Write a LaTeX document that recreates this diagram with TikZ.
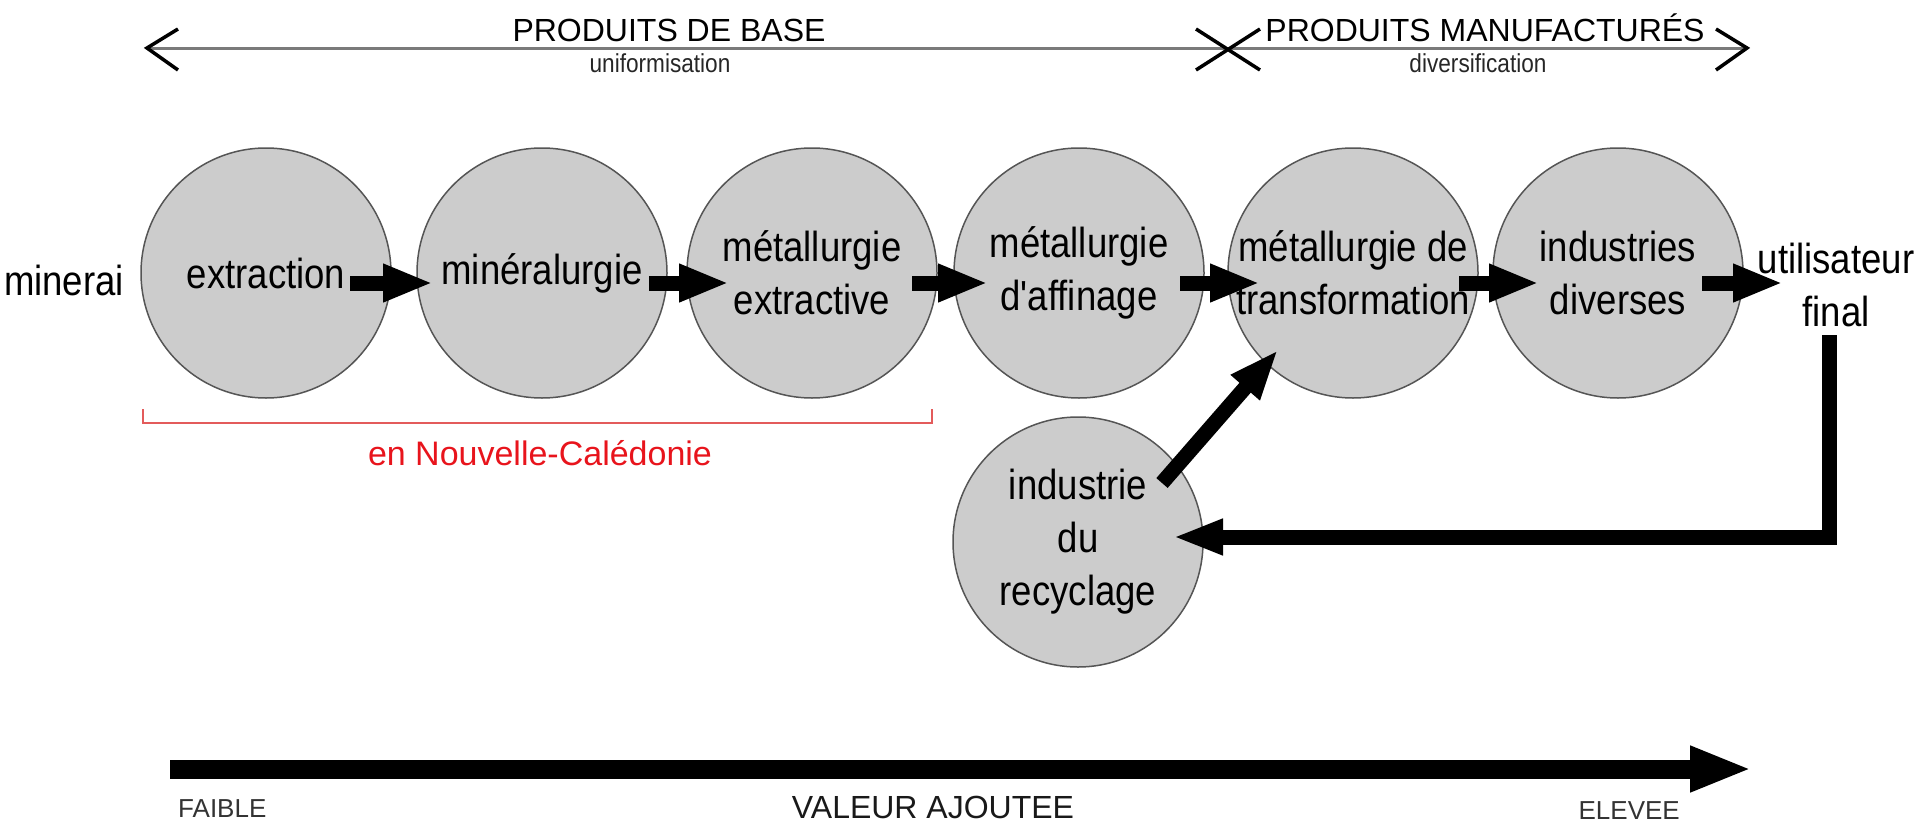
\documentclass[tikz,border=0pt]{standalone}
\usepackage{fontspec}
\setmainfont{Liberation Sans}
\newfontfamily\cfont[FakeStretch=0.87]{Liberation Sans}
\usetikzlibrary{arrows.meta}
\definecolor{circfill}{HTML}{CCCCCC}
\definecolor{circline}{HTML}{555555}
\definecolor{redline}{HTML}{E35B5B}
\definecolor{redtext}{HTML}{E8141C}
\definecolor{axisgray}{HTML}{7A7A7A}
\begin{document}
\begin{tikzpicture}[x=1pt,y=-1pt,
  stage/.style={circle,draw=circline,line width=1.5pt,fill=circfill,minimum size=250pt,inner sep=0pt,
    font=\cfont\fontsize{42pt}{53pt}\selectfont,align=center},
  plainlbl/.style={font=\cfont\fontsize{42pt}{53pt}\selectfont,align=center,inner sep=0pt},
  flow/.style={line width=15pt,-{Triangle[length=50pt,width=35pt]}},
  backflow/.style={line width=15pt,line join=miter,-{Triangle[length=50pt,width=33pt]}},
  valueflow/.style={line width=19pt,-{Triangle[length=62pt,width=42pt]}},
  headlbl/.style={font=\fontsize{32pt}{38pt}\selectfont,inner sep=0pt,anchor=base},
  sublbl/.style={font=\cfont\fontsize{26pt}{30pt}\selectfont,text=black!85,inner sep=0pt,anchor=base},
  axisline/.style={draw=axisgray,line width=3pt},
  chevron/.style={draw=black,line width=3.5pt},
  endlbl/.style={font=\fontsize{26pt}{30pt}\selectfont,text=black!80,inner sep=0pt},
]
\useasboundingbox (0,0) rectangle (1920,822);

% top axis
\draw[axisline] (147,48) -- (1747,48);
\draw[chevron] (178,29) -- (147,48) -- (178,70);
\draw[chevron] (1716,29) -- (1747,48) -- (1716,70);
\draw[chevron] (1196,29) -- (1260,70);
\draw[chevron] (1196,70) -- (1260,29);
\node[headlbl] (pb) at (669,41) {PRODUITS DE BASE};
\node[sublbl] (unif) at (660,72) {uniformisation};
\node[headlbl] (pm) at (1485,41) {PRODUITS MANUFACTURÉS};
\node[sublbl] (divs) at (1478,72) {diversification};

% stages
\node[plainlbl] (min) at (64,280) {minerai};
\node[stage] (c1) at (266,273) {extraction};
\node[stage] (c2) at (542,273) {minéralurgie};
\node[stage] (c3) at (812,273) {métallurgie\\extractive};
\node[stage] (c4) at (1079,273) {métallurgie\\d'affinage};
\node[stage] (c5) at (1353,273) {métallurgie de\\transformation};
\node[stage] (c6) at (1618,273) {industries\\diverses};
\node[plainlbl] (uf) at (1836,285) {utilisateur\\final};
\node[stage] (rec) at (1078,542) {industrie\\du\\recyclage};

% flow arrows
\draw[flow] ([shift={(84,10)}]c1.center) -- ([shift={(-109,10)}]c2.center);
\draw[flow] ([shift={(107,10)}]c2.center) -- ([shift={(-83,10)}]c3.center);
\draw[flow] ([shift={(100,10)}]c3.center) -- ([shift={(-91,10)}]c4.center);
\draw[flow] ([shift={(101,10)}]c4.center) -- ([shift={(-93,10)}]c5.center);
\draw[flow] ([shift={(106,10)}]c5.center) -- ([shift={(-79,10)}]c6.center);
\draw[flow] ([shift={(84,10)}]c6.center) -- ([shift={(-53,-2)}]uf.center);

% recycling loop
\draw[backflow] ([shift={(-7,50)}]uf.center) |- ([shift={(95,-5)}]rec.center);
\draw[flow] ([shift={(84,-59)}]rec.center) -- ([shift={(-75,77)}]c5.center);

% New Caledonia bracket
\draw[draw=redline,line width=2pt] (143,409) -- (143,423) -- (932,423) -- (932,409);
\node[font=\fontsize{34pt}{40pt}\selectfont,text=redtext,inner sep=0pt,anchor=base] (nc) at (540,465) {en Nouvelle-Calédonie};

% value axis
\coordinate (vs) at (170,769);
\coordinate (ve) at (1752,769);
\draw[valueflow] (vs) -- (ve);
\node[endlbl,anchor=base west] (lo) at (178,817) {FAIBLE};
\node[font=\fontsize{32pt}{38pt}\selectfont,text=black!90,inner sep=0pt,anchor=base] (va) at (933,818) {VALEUR AJOUTEE};
\node[endlbl,anchor=base east] (hi) at (1680,819) {ELEVEE};
\end{tikzpicture}
\end{document}
